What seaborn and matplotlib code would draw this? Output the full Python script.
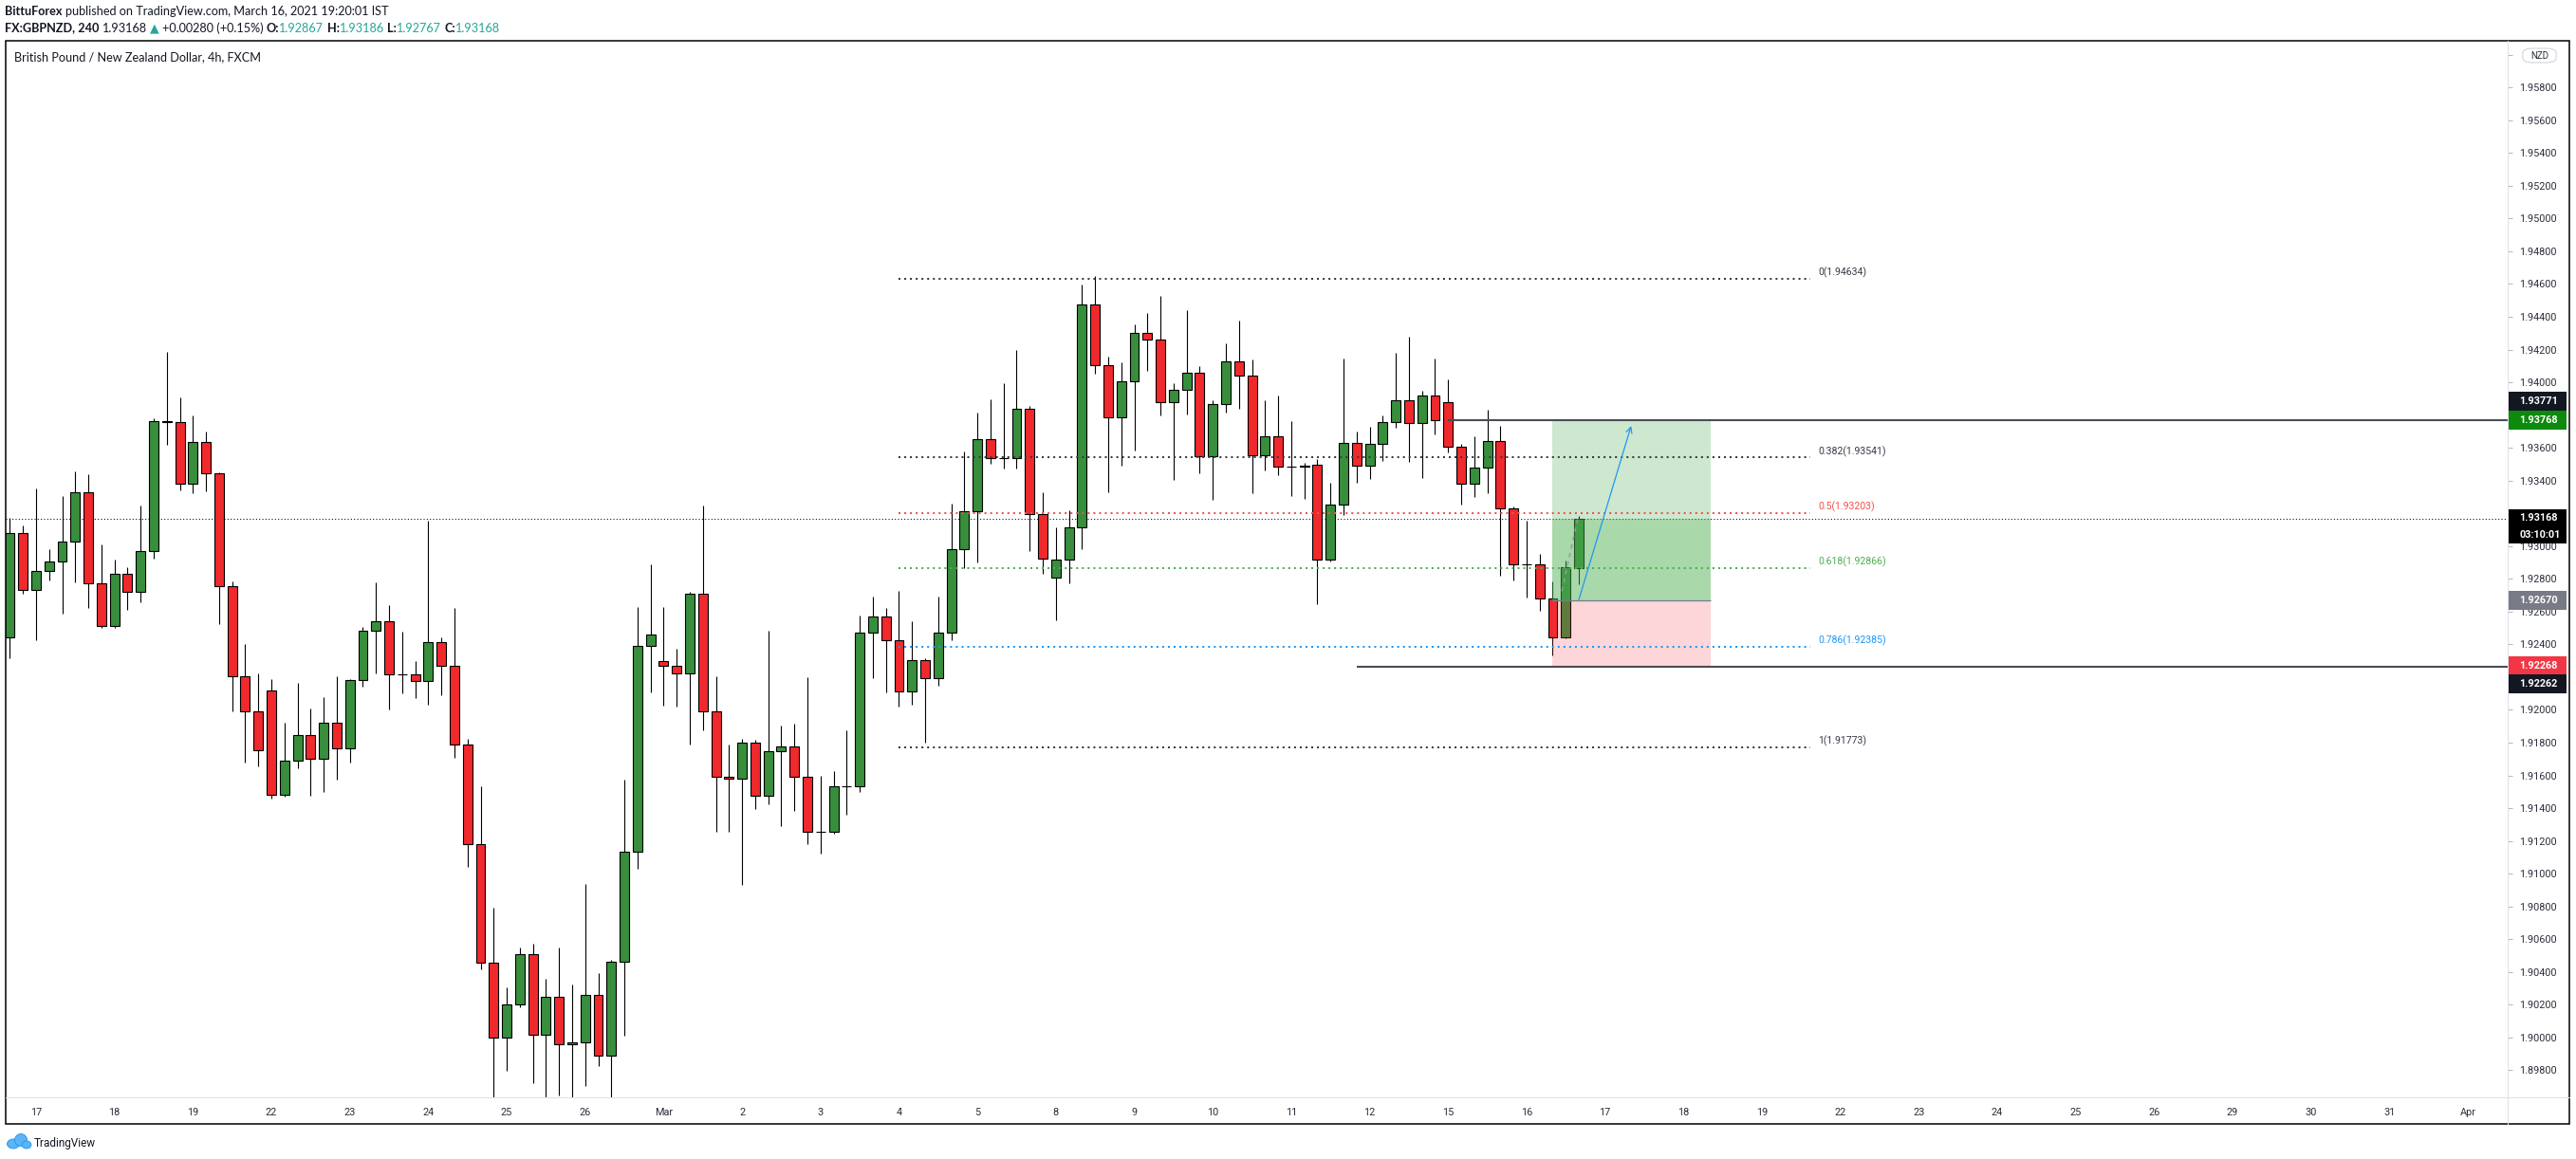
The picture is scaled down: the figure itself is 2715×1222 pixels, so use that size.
import numpy as np
import pandas as pd
import seaborn as sns
import matplotlib.pyplot as plt
from matplotlib.patches import Rectangle, FancyBboxPatch, Ellipse
from matplotlib.lines import Line2D
from matplotlib import font_manager as fm

W, H, DPI = 2715, 1222, 100

# --- 4h candles GBPNZD, 16 Feb (last 2 bars) .. 16 Mar 2021 ---
opens = [1.92444, 1.93080, 1.92733, 1.92849, 1.92907, 1.93028, 1.93330, 1.92773, 1.92514, 1.92831,
         1.92721, 1.92971, 1.93764, 1.93758, 1.93381, 1.93637, 1.93445, 1.92757, 1.92207, 1.91991,
         1.92119, 1.91483, 1.91690, 1.91848, 1.91702, 1.91924, 1.91763, 1.92184, 1.92486, 1.92539,
         1.92216, 1.92219, 1.92179, 1.92416, 1.92267, 1.91786, 1.91178, 1.90455, 1.90001, 1.90203,
         1.90510, 1.90019, 1.90248, 1.89961, 1.89971, 1.90261, 1.89890, 1.90465, 1.91135, 1.92389,
         1.92296, 1.92267, 1.92221, 1.92708, 1.91989, 1.91590, 1.91578, 1.91798, 1.91478, 1.91746,
         1.91775, 1.91590, 1.91254, 1.91254, 1.91532, 1.91535, 1.92470, 1.92568, 1.92424, 1.92111,
         1.92302, 1.92192, 1.92470, 1.92980, 1.93211, 1.93652, 1.93536, 1.93536, 1.93837, 1.93194,
         1.92806, 1.92916, 1.93113, 1.94474, 1.94103, 1.93785, 1.94005, 1.94300, 1.94260, 1.93877,
         1.93953, 1.94057, 1.93547, 1.93866, 1.94126, 1.94040, 1.93553, 1.93669, 1.93484, 1.93487,
         1.93495, 1.92916, 1.93252, 1.93628, 1.93489, 1.93622, 1.93756, 1.93889, 1.93750, 1.93918,
         1.93877, 1.93605, 1.93379, 1.93478, 1.93640, 1.93229, 1.92887, 1.92887, 1.92680, 1.92441,
         1.92867]
highs = [1.93172, 1.93128, 1.93350, 1.92979, 1.93308, 1.93459, 1.93441, 1.93012, 1.92915, 1.92869,
         1.93246, 1.93782, 1.94183, 1.93906, 1.93800, 1.93697, 1.93451, 1.92787, 1.92400, 1.92221,
         1.92185, 1.91919, 1.92167, 1.92011, 1.92078, 1.92204, 1.92190, 1.92506, 1.92779, 1.92640,
         1.92476, 1.92297, 1.93157, 1.92443, 1.92622, 1.91823, 1.91533, 1.90792, 1.90304, 1.90548,
         1.90573, 1.90356, 1.90548, 1.90326, 1.90936, 1.90392, 1.90472, 1.91574, 1.92628, 1.92889,
         1.92628, 1.92374, 1.92721, 1.93248, 1.92206, 1.91788, 1.91823, 1.91817, 1.92483, 1.91904,
         1.91916, 1.92200, 1.91597, 1.91626, 1.91875, 1.92576, 1.92692, 1.92623, 1.92727, 1.92541,
         1.92316, 1.92692, 1.93260, 1.93578, 1.93816, 1.93897, 1.93995, 1.94198, 1.93854, 1.93329,
         1.93115, 1.93219, 1.94597, 1.94650, 1.94157, 1.94123, 1.94354, 1.94424, 1.94528, 1.93995,
         1.94441, 1.94099, 1.93889, 1.94238, 1.94377, 1.94140, 1.93891, 1.93920, 1.93763, 1.93507,
         1.93530, 1.93387, 1.94146, 1.93700, 1.93729, 1.93798, 1.94180, 1.94279, 1.93949, 1.94146,
         1.94018, 1.93623, 1.93671, 1.93833, 1.93734, 1.93240, 1.93155, 1.92953, 1.92785, 1.92912,
         1.93186]
lows = [1.92314, 1.92707, 1.92424, 1.92793, 1.92586, 1.92777, 1.92621, 1.92500, 1.92500, 1.92610,
        1.92657, 1.92923, 1.93621, 1.93340, 1.93322, 1.93334, 1.92524, 1.91989, 1.91678, 1.91654,
        1.91457, 1.91467, 1.91642, 1.91475, 1.91498, 1.91574, 1.91680, 1.92143, 1.92224, 1.92005,
        1.92103, 1.92073, 1.92033, 1.92090, 1.91710, 1.91042, 1.90414, 1.89620, 1.89797, 1.90183,
        1.89721, 1.89625, 1.89646, 1.89625, 1.89704, 1.89825, 1.89625, 1.90011, 1.91032, 1.92107,
        1.92026, 1.92020, 1.91790, 1.91877, 1.91258, 1.91258, 1.90933, 1.91396, 1.91425, 1.91292,
        1.91385, 1.91182, 1.91124, 1.91246, 1.91362, 1.91501, 1.92196, 1.92107, 1.92022, 1.92034,
        1.91802, 1.92146, 1.92428, 1.92868, 1.92902, 1.93501, 1.93476, 1.93476, 1.92972, 1.92833,
        1.92549, 1.92775, 1.92984, 1.94055, 1.93331, 1.93493, 1.93586, 1.94072, 1.93800, 1.93406,
        1.93806, 1.93447, 1.93285, 1.93818, 1.93841, 1.93325, 1.93464, 1.93435, 1.93308, 1.93290,
        1.92648, 1.92908, 1.93188, 1.93389, 1.93412, 1.93522, 1.93725, 1.93516, 1.93418, 1.93684,
        1.93574, 1.93256, 1.93302, 1.93325, 1.92821, 1.92792, 1.92688, 1.92607, 1.92335, 1.92435,
        1.92767]
closes = [1.93080, 1.92733, 1.92849, 1.92907, 1.93028, 1.93330, 1.92773, 1.92514, 1.92831, 1.92721,
          1.92971, 1.93764, 1.93760, 1.93381, 1.93637, 1.93445, 1.92757, 1.92207, 1.91991, 1.91754,
          1.91483, 1.91690, 1.91848, 1.91702, 1.91924, 1.91763, 1.92184, 1.92486, 1.92539, 1.92216,
          1.92216, 1.92179, 1.92416, 1.92267, 1.91786, 1.91178, 1.90455, 1.90001, 1.90203, 1.90510,
          1.90019, 1.90248, 1.89961, 1.89971, 1.90261, 1.89890, 1.90465, 1.91135, 1.92389, 1.92458,
          1.92267, 1.92221, 1.92708, 1.91989, 1.91590, 1.91578, 1.91798, 1.91478, 1.91746, 1.91775,
          1.91590, 1.91254, 1.91254, 1.91532, 1.91535, 1.92470, 1.92568, 1.92424, 1.92111, 1.92302,
          1.92192, 1.92470, 1.92980, 1.93211, 1.93652, 1.93536, 1.93536, 1.93837, 1.93194, 1.92922,
          1.92916, 1.93113, 1.94474, 1.94103, 1.93785, 1.94005, 1.94300, 1.94260, 1.93877, 1.93953,
          1.94057, 1.93547, 1.93866, 1.94126, 1.94040, 1.93553, 1.93669, 1.93484, 1.93487, 1.93493,
          1.92916, 1.93252, 1.93628, 1.93489, 1.93622, 1.93756, 1.93889, 1.93750, 1.93918, 1.93767,
          1.93605, 1.93379, 1.93478, 1.93640, 1.93229, 1.92887, 1.92887, 1.92680, 1.92441, 1.92870,
          1.93168]

day_labels = ["17", "18", "19", "22", "23", "24", "25", "26", "Mar", "2", "3", "4", "5", "8", "9",
              "10", "11", "12", "15", "16", "17", "18", "19", "22", "23", "24", "25", "26", "29",
              "30", "31", "Apr"]
first_day_bar = 2
bars_per_day = 6

fib_ratios = ["0", "0.382", "0.5", "0.618", "0.786", "1"]
fib_prices = [1.94634, 1.93541, 1.93203, 1.92866, 1.92385, 1.91773]
fib_colors = ["#363a45", "#363a45", "#f05350", "#4caf50", "#2196f3", "#363a45"]

entry_price, target_price, stop_price = 1.92670, 1.93768, 1.92268
resist_price, support_price = 1.93771, 1.92262
countdown = "03:10:01"

# drawing anchors (bar index, price)
fib_span = (68, 137.7)
pos_span = (118, 130.06)
resist_from, support_from = 110, 103
arrow_from, arrow_to = (120, 1.92673), (124, 1.93734)
path_from, path_to = (118.7, 1.92725), (119.9, 1.93163)

DARK = "#131722"
TEAL = "#26a69a"
GRID = "#e0e3eb"

sns.set_theme(style="white")
names = {f.name for f in fm.fontManager.ttflist}
HEAD_FONT = "Liberation Sans Narrow" if "Liberation Sans Narrow" in names else "Lato"
plt.rcParams["font.family"] = ["Roboto", "DejaVu Sans"]

fig = plt.figure(figsize=(W / DPI, H / DPI), dpi=DPI, facecolor="white")


def fx(px):
    return px / W


def fy(py):
    return 1 - py / H


# chart pane: x 6..2643, y 42.7..1157 px
ax = fig.add_axes([fx(6), fy(1157), fx(2643) - fx(6), fy(42.7) - fy(1157)])
ax.set_facecolor("white")
ax.set_xlim(-0.32, 191.04)
ax.set_ylim(1.89634, 1.96087)
for s in ax.spines.values():
    s.set_visible(False)

df = pd.DataFrame({"o": opens, "h": highs, "l": lows, "c": closes})
df["i"] = np.arange(len(df))
df["up"] = df["c"] >= df["o"]
body_low = df[["o", "c"]].min(axis=1)
body_h = (df["c"] - df["o"]).abs().clip(lower=1e-5)
body_col = np.where(df["up"], "#388e3c", "#f0292d")

# last price line
ax.axhline(closes[-1], color="black", lw=0.75, ls=(0, (1, 2.2)), zorder=1)

ax.vlines(df["i"], df["l"], df["h"], color="black", lw=0.8, zorder=2)
ax.bar(df["i"], body_h, bottom=body_low, width=0.72, color=body_col,
       edgecolor="black", linewidth=0.8, zorder=3)

# long position tool
pw = pos_span[1] - pos_span[0]
green = (76 / 255, 175 / 255, 80 / 255, 0.28)
ax.add_patch(Rectangle((pos_span[0], entry_price), pw, target_price - entry_price,
                       facecolor=green, edgecolor="none", zorder=4))
ax.add_patch(Rectangle((pos_span[0], entry_price), pw, closes[-1] - entry_price,
                       facecolor=green, edgecolor="none", zorder=4))
ax.add_patch(Rectangle((pos_span[0], stop_price), pw, entry_price - stop_price,
                       facecolor=(242 / 255, 54 / 255, 69 / 255, 0.2), edgecolor="none", zorder=4))
ax.hlines(entry_price, pos_span[0], pos_span[1], color="#787b86", lw=0.9, zorder=5)
ax.plot([path_from[0], path_to[0]], [path_from[1], path_to[1]], color="#9598a1",
        lw=1.1, ls=(0, (3, 3)), zorder=5)

# fib retracement
for r, p, c in zip(fib_ratios, fib_prices, fib_colors):
    ax.hlines(p, fib_span[0], fib_span[1], color=c, lw=1.45, linestyles=[(0, (1, 2))], zorder=5)
    ax.text(fib_span[1] + 0.6, p + 0.00004, f"{r}({p:.5f})", color=c, fontsize=7.6,
            ha="left", va="bottom", zorder=6)

# horizontal levels
ax.hlines(resist_price, resist_from, 191.04, color="#4a4c57", lw=1.5, zorder=5)
ax.hlines(support_price, support_from, 191.04, color="#4a4c57", lw=1.5, zorder=5)

# blue arrow
ax.annotate("", xy=arrow_to, xytext=arrow_from,
            arrowprops=dict(arrowstyle="->", color="#2196f3", lw=0.9,
                            mutation_scale=11, shrinkA=0, shrinkB=0), zorder=6)

# price scale (top tick 1.96000 sits under the currency badge)
price_ticks = np.round(np.arange(1.898, 1.9601, 0.002), 3)
ax.yaxis.tick_right()
ax.set_yticks(price_ticks)
ax.set_yticklabels([f"{v:.5f}" if v < 1.9595 else "" for v in price_ticks])
ax.tick_params(axis="y", direction="out", length=3.5, width=0.7, color="#b2b5be",
               labelsize=7.8, labelcolor="#2a2e39", pad=5)

# time scale
ax.set_xticks([first_day_bar + bars_per_day * k for k in range(len(day_labels))])
ax.set_xticklabels(day_labels)
ax.tick_params(axis="x", direction="out", length=3, width=0.7, color="#b2b5be",
               labelsize=7.8, labelcolor="#2a2e39", pad=5)
ax.grid(False)

# pane separators and outer frame
fig.add_artist(Line2D([fx(6), fx(2708)], [fy(1157), fy(1157)], color=GRID, lw=0.8))
fig.add_artist(Line2D([fx(2643), fx(2643)], [fy(42.7), fy(1185)], color=GRID, lw=0.8))
fig.add_artist(Rectangle((fx(6), fy(1185)), fx(2708) - fx(6), fy(42.7) - fy(1185),
                         transform=fig.transFigure, fill=False, edgecolor="black", lw=1.1))


def price_px(p):
    return H - ax.transData.transform((0, p))[1]


def axis_box(cy, lines, color, h=20):
    top = cy - h / 2
    fig.add_artist(Rectangle((fx(2644), fy(top + h)), fx(2705) - fx(2644), h / H,
                             transform=fig.transFigure, facecolor=color, edgecolor="none",
                             zorder=10))
    step = h / len(lines)
    for k, s in enumerate(lines):
        fig.text(fx(2655), fy(top + step * (k + 0.5)), s, color="white", fontsize=7.8,
                 fontweight="bold", ha="left", va="center", zorder=11)


yt = price_px(target_price)
axis_box(yt, [f"{target_price:.5f}"], "#0c8a0c")
axis_box(yt - 20, [f"{resist_price:.5f}"], DARK)
ys = price_px(stop_price)
axis_box(ys, [f"{stop_price:.5f}"], "#f23645")
axis_box(ys + 19, [f"{support_price:.5f}"], DARK)
axis_box(price_px(entry_price), [f"{entry_price:.5f}"], "#787b86")
axis_box(price_px(closes[-1]) + 8, [f"{closes[-1]:.5f}", countdown], "black", h=36)

# currency badge
fig.add_artist(FancyBboxPatch((fx(2661), fy(65)), fx(2692) - fx(2661), 13 / H,
                              boxstyle="round,pad=0.0008,rounding_size=0.004",
                              transform=fig.transFigure, facecolor="white",
                              edgecolor="#d1d4dc", lw=0.8, zorder=10))
fig.text(fx(2676.5), fy(58.5), "NZD", fontsize=7, color="#2a2e39", ha="center",
         va="center", zorder=11)

# header lines
rend = fig.canvas.get_renderer()
head_kw = dict(fontsize=9.1, family=[HEAD_FONT, "DejaVu Sans"], va="center", ha="left")


def text_w(s, **kw):
    t = fig.text(0, 0, s, **kw)
    w = t.get_window_extent(renderer=rend).width
    t.remove()
    return w


space_w = text_w("x x", **head_kw) - text_w("xx", **head_kw)


def draw_pieces(pieces, x, y):
    for s, color, weight in pieces:
        x += (len(s) - len(s.lstrip(" "))) * space_w
        t = fig.text(fx(x), fy(y), s.strip(" "), color=color, fontweight=weight, **head_kw)
        x += t.get_window_extent(renderer=rend).width
        x += (len(s) - len(s.rstrip(" "))) * space_w


draw_pieces([("BittuForex", DARK, "bold"),
             (" published on TradingView.com, March 16, 2021 19:20:01 IST", DARK, "normal")],
            5, 12)
draw_pieces([("FX:GBPNZD, 240", DARK, "bold"),
             (f" {closes[-1]:.5f} ", DARK, "normal"),
             ("\u25b2", TEAL, "normal"),
             (" +0.00280 (+0.15%) ", DARK, "normal"),
             ("O:", DARK, "bold"), (f"{opens[-1]:.5f}", TEAL, "normal"),
             (" H:", DARK, "bold"), (f"{highs[-1]:.5f}", TEAL, "normal"),
             (" L:", DARK, "bold"), (f"{lows[-1]:.5f}", TEAL, "normal"),
             (" C:", DARK, "bold"), (f"{closes[-1]:.5f}", TEAL, "normal")],
            5, 29.5)
fig.text(fx(15), fy(60.5), "British Pound / New Zealand Dollar, 4h, FXCM", color=DARK, **head_kw)

# TradingView mark bottom-left
for (cx, cy, ew, eh) in [(14, 1206, 13, 10), (22, 1202, 13, 13), (28, 1207, 10, 8)]:
    fig.add_artist(Ellipse((fx(cx), fy(cy)), ew / W, eh / H, transform=fig.transFigure,
                           facecolor="#5bb4f3", edgecolor="#2196f3", lw=0.6))
fig.text(fx(36), fy(1205), "TradingView", fontsize=8.5, color=DARK, ha="left", va="center",
         family=["Roboto", "DejaVu Sans"])

fig.savefig("out.png", dpi=DPI, facecolor="white")
